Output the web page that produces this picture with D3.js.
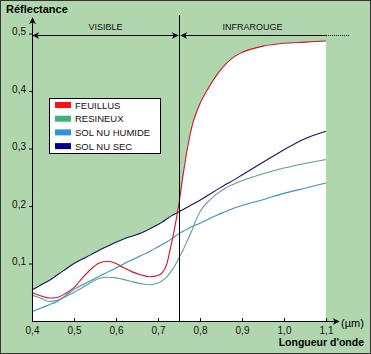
<!DOCTYPE html>
<html>
<head>
<meta charset="utf-8">
<script src="https://cdn.jsdelivr.net/npm/d3@7"></script>
<style>
  body { margin: 0; background: #fff; }
  svg { display: block; font-family: "Liberation Sans", Arial, sans-serif; }
</style>
</head>
<body>
<svg width="371" height="354"></svg>
<script>
// Data
const wavelengths = [0.40, 0.42, 0.44, 0.46, 0.48, 0.50, 0.52, 0.54, 0.56, 0.58, 0.60, 0.62, 0.64, 0.66, 0.68, 0.70,
  0.71, 0.72, 0.73, 0.74, 0.75, 0.76, 0.77, 0.78, 0.79, 0.80, 0.82, 0.84, 0.86, 0.88, 0.90, 0.95, 1.00, 1.05, 1.10];

const feuillus = [0.049, 0.044, 0.040, 0.041, 0.048, 0.058, 0.075, 0.090, 0.101, 0.104, 0.100, 0.092, 0.085, 0.080, 0.077, 0.079,
  0.084, 0.097, 0.128, 0.163, 0.205, 0.255, 0.300, 0.336, 0.360, 0.378, 0.405, 0.428, 0.446, 0.459, 0.467, 0.478, 0.483, 0.485, 0.487];

const resineux = [0.045, 0.040, 0.034, 0.036, 0.042, 0.050, 0.058, 0.067, 0.074, 0.076, 0.075, 0.072, 0.068, 0.065, 0.063, 0.066,
  0.070, 0.076, 0.085, 0.096, 0.110, 0.124, 0.140, 0.156, 0.175, 0.190, 0.208, 0.221, 0.231, 0.238, 0.244, 0.256, 0.266, 0.274, 0.281];

const solHumide = [0.016, 0.022, 0.028, 0.034, 0.044, 0.055, 0.063, 0.070, 0.078, 0.085, 0.092, 0.100, 0.107, 0.114, 0.121, 0.129,
  0.133, 0.137, 0.142, 0.147, 0.152, 0.156, 0.160, 0.164, 0.167, 0.170, 0.177, 0.184, 0.190, 0.196, 0.201, 0.211, 0.222, 0.231, 0.240];

const solSec = [0.054, 0.062, 0.070, 0.080, 0.090, 0.100, 0.108, 0.115, 0.123, 0.130, 0.137, 0.143, 0.148, 0.153, 0.160, 0.168,
  0.172, 0.177, 0.182, 0.186, 0.190, 0.194, 0.198, 0.202, 0.206, 0.210, 0.219, 0.228, 0.237, 0.245, 0.254, 0.276, 0.298, 0.317, 0.330];

const seriesNames = ['FEUILLUS', 'RESINEUX', 'SOL NU HUMIDE', 'SOL NU SEC'];
const xTicks = [0.4, 0.5, 0.6, 0.7, 0.8, 0.9, 1.0, 1.1];
const yTicks = [0.1, 0.2, 0.3, 0.4, 0.5];
const bandLabels = ['VISIBLE', 'INFRAROUGE'];
const bandLimit = 0.75;

const series = [
  { name: seriesNames[0], values: feuillus, line: '#d0142a', swatch: '#ff1010' },
  { name: seriesNames[1], values: resineux, line: '#5f9f8a', swatch: '#3cb476' },
  { name: seriesNames[2], values: solHumide, line: '#3b8ec4', swatch: '#2e92e0' },
  { name: seriesNames[3], values: solSec, line: '#14145a', swatch: '#00008c' }
];

const svg = d3.select('svg');
const W = 371, H = 354;

// background + frame
svg.append('rect')
  .attr('x', 0.5).attr('y', 0.5)
  .attr('width', W - 1).attr('height', H - 1)
  .attr('fill', '#b0d6ae')
  .attr('stroke', '#333');

const x = d3.scaleLinear().domain([0.4, 1.1]).range([32, 326]);
const y = d3.scaleLinear().domain([0, 0.5]).range([321, 33.5]);
const fmt = d => d3.format('.1f')(d).replace('.', ',');

const defs = svg.append('defs');
function arrowMarker(id) {
  defs.append('marker')
    .attr('id', id)
    .attr('viewBox', '0 0 10 10')
    .attr('refX', 9).attr('refY', 5)
    .attr('markerWidth', 7).attr('markerHeight', 7)
    .attr('markerUnits', 'userSpaceOnUse')
    .attr('orient', 'auto-start-reverse')
    .append('path')
    .attr('d', 'M0,0 L10,5 L0,10 L3,5 Z')
    .attr('fill', '#000');
}
arrowMarker('arr');

// white area under the curves (union of areas)
const area = d3.area()
  .x((d, i) => x(wavelengths[i]))
  .y0(y(0))
  .y1(d => y(d))
  .curve(d3.curveMonotoneX);

svg.append('g')
  .selectAll('path')
  .data(series)
  .enter()
  .append('path')
  .attr('d', s => area(s.values))
  .attr('fill', '#fff');

// curves
const line = d3.line()
  .x((d, i) => x(wavelengths[i]))
  .y(d => y(d))
  .curve(d3.curveMonotoneX);

svg.append('g')
  .selectAll('path')
  .data(series.slice().reverse())
  .enter()
  .append('path')
  .attr('d', s => line(s.values))
  .attr('fill', 'none')
  .attr('stroke', s => s.line)
  .attr('stroke-width', 1.1);

// x axis
const xAxis = svg.append('g')
  .attr('transform', `translate(0, ${y(0)})`)
  .attr('font-size', 14)
  .attr('font-family', '"Liberation Sans", Arial, sans-serif')
  .call(d3.axisBottom(x).tickValues(xTicks).tickFormat(fmt).tickSizeInner(-3).tickSizeOuter(0).tickPadding(6));
xAxis.select('.domain').remove();
xAxis.selectAll('text').attr('fill', '#111');

svg.append('line')
  .attr('x1', x(0.4)).attr('y1', y(0) + 0.5)
  .attr('x2', 339).attr('y2', y(0) + 0.5)
  .attr('stroke', '#000')
  .attr('marker-end', 'url(#arr)');

// y axis
const yAxis = svg.append('g')
  .attr('transform', `translate(${x(0.4)}, 0)`)
  .attr('font-size', 14)
  .attr('font-family', '"Liberation Sans", Arial, sans-serif')
  .call(d3.axisLeft(y).tickValues(yTicks).tickFormat(fmt).tickSizeInner(3).tickSizeOuter(0).tickPadding(3));
yAxis.select('.domain').remove();
yAxis.selectAll('text').attr('fill', '#111').attr('dy', '0.12em');

svg.append('line')
  .attr('x1', x(0.4) + 0.5).attr('y1', y(0))
  .attr('x2', x(0.4) + 0.5).attr('y2', 18)
  .attr('stroke', '#000')
  .attr('marker-end', 'url(#arr)');

// visible / infrared limit
svg.append('line')
  .attr('x1', Math.round(x(bandLimit)) + 0.5).attr('y1', 15)
  .attr('x2', Math.round(x(bandLimit)) + 0.5).attr('y2', y(0))
  .attr('stroke', '#000');

const bandY = 35.5;
svg.append('line')
  .attr('x1', x(0.4) + 1).attr('y1', bandY)
  .attr('x2', x(bandLimit) - 1).attr('y2', bandY)
  .attr('stroke', '#000')
  .attr('marker-start', 'url(#arr)')
  .attr('marker-end', 'url(#arr)');

svg.append('line')
  .attr('x1', x(bandLimit) + 2).attr('y1', bandY)
  .attr('x2', x(1.1)).attr('y2', bandY)
  .attr('stroke', '#000')
  .attr('marker-start', 'url(#arr)');

svg.append('line')
  .attr('x1', x(1.1)).attr('y1', bandY)
  .attr('x2', 350).attr('y2', bandY)
  .attr('stroke', '#000')
  .attr('stroke-dasharray', '1,1');

svg.selectAll('.band')
  .data(bandLabels)
  .enter()
  .append('text')
  .attr('class', 'band')
  .attr('x', (d, i) => i === 0 ? (x(0.4) + x(bandLimit)) / 2 : (x(bandLimit) + x(1.1)) / 2)
  .attr('y', 30)
  .attr('text-anchor', 'middle')
  .attr('font-size', 9)
  .attr('fill', '#111')
  .text(d => d);

// legend
const legend = svg.append('g').attr('transform', 'translate(49.5, 98.5)');
legend.append('rect')
  .attr('width', 111).attr('height', 55)
  .attr('fill', '#fff')
  .attr('stroke', '#000');

const items = legend.selectAll('.item')
  .data(series)
  .enter()
  .append('g')
  .attr('transform', (d, i) => `translate(0, ${6.5 + i * 13.7})`);

items.append('rect')
  .attr('x', 5.5).attr('y', -3)
  .attr('width', 16).attr('height', 6)
  .attr('fill', d => d.swatch);

items.append('text')
  .attr('x', 25.5).attr('y', 3.5)
  .attr('font-size', 9.5)
  .attr('fill', '#111')
  .text(d => d.name);

// titles
svg.append('text')
  .attr('x', 6).attr('y', 13)
  .attr('font-size', 11)
  .attr('font-weight', 'bold')
  .text('Réflectance');

svg.append('text')
  .attr('x', 364).attr('y', 346)
  .attr('text-anchor', 'end')
  .attr('font-size', 10.5)
  .attr('font-weight', 'bold')
  .text("Longueur d'onde");

svg.append('text')
  .attr('x', 341).attr('y', 327)
  .attr('font-size', 11)
  .text('(µm)');
</script>
</body>
</html>
